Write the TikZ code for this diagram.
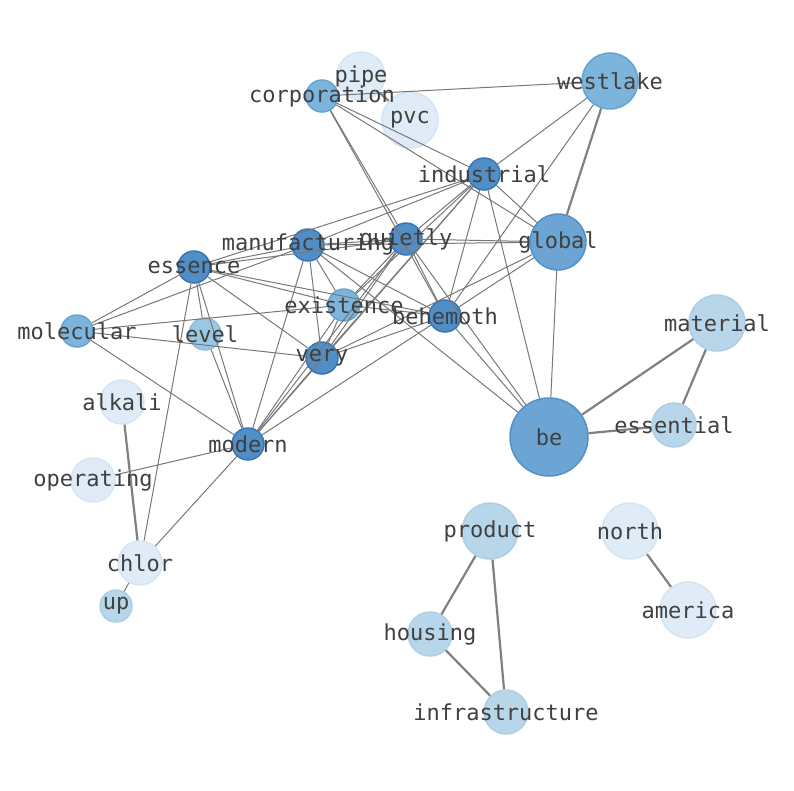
\documentclass[tikz,border=0pt]{standalone}
\usepackage{fontspec}
\setmonofont{DejaVu Sans Mono}
\begin{document}
\begin{tikzpicture}[x=1pt,y=-1pt,
 nd/.style={circle,inner sep=0pt,minimum size=#1,line width=1.5pt},
 dk/.style={fill={rgb,255:red,82;green,142;blue,198},draw={rgb,255:red,55;green,118;blue,186}},
 bg/.style={fill={rgb,255:red,108;green,165;blue,211},draw={rgb,255:red,80;green,145;blue,200}},
 md/.style={fill={rgb,255:red,124;green,180;blue,219},draw={rgb,255:red,100;green,165;blue,212}},
 lv/.style={fill={rgb,255:red,154;green,199;blue,227},draw={rgb,255:red,140;green,190;blue,224}},
 lt/.style={fill={rgb,255:red,184;green,214;blue,233},draw={rgb,255:red,172;green,207;blue,230}},
 vl/.style={fill={rgb,255:red,223;green,235;blue,246},draw={rgb,255:red,214;green,229;blue,243}},
 e/.style={draw={rgb,255:red,120;green,120;blue,120},line width=1pt},
 E/.style={draw={rgb,255:red,128;green,128;blue,128},line width=2.2pt},
 lb/.style={font=\ttfamily\fontsize{22}{22}\selectfont,text={rgb,255:red,64;green,64;blue,64}}]
\useasboundingbox (0,0) rectangle (794,790);
\node[nd=48,vl] (pipe) at (361,76) {};
\node[nd=32,md] (corporation) at (322,96) {};
\node[nd=56,vl] (pvc) at (410,120) {};
\node[nd=56,md] (westlake) at (610,81) {};
\node[nd=32,dk] (industrial) at (484,174) {};
\node[nd=32,dk] (quietly) at (406,239) {};
\node[nd=56,bg] (global) at (558,242) {};
\node[nd=32,dk] (manufacturing) at (308,245) {};
\node[nd=32,dk] (essence) at (194,267) {};
\node[nd=32,md] (existence) at (344,305) {};
\node[nd=32,dk] (behemoth) at (445,316) {};
\node[nd=32,md] (molecular) at (77,331) {};
\node[nd=32,lv] (level) at (205,334) {};
\node[nd=32,dk] (very) at (322,358) {};
\node[nd=56,lt] (material) at (717,323) {};
\node[nd=44,vl] (alkali) at (122,402) {};
\node[nd=32,dk] (modern) at (248,444) {};
\node[nd=78,bg] (be) at (549,437) {};
\node[nd=44,lt] (essential) at (674,425) {};
\node[nd=44,vl] (operating) at (93,480) {};
\node[nd=56,lt] (product) at (490,531) {};
\node[nd=56,vl] (north) at (630,531) {};
\node[nd=44,vl] (chlor) at (140,563) {};
\node[nd=56,vl] (america) at (688,610) {};
\node[nd=32,lt] (up) at (116,606) {};
\node[nd=44,lt] (housing) at (430,634) {};
\node[nd=44,lt] (infrastructure) at (506,712) {};
\foreach \a/\b in {corporation/westlake,corporation/industrial,corporation/global,corporation/quietly,corporation/behemoth,
 westlake/industrial,westlake/behemoth,
 industrial/manufacturing,industrial/essence,industrial/quietly,industrial/global,industrial/behemoth,industrial/be,industrial/very,industrial/existence,industrial/modern,
 quietly/global,manufacturing/global,quietly/manufacturing,quietly/very,quietly/modern,quietly/existence,quietly/behemoth,quietly/be,quietly/essence,
 global/be,global/behemoth,global/very,
 essence/molecular,essence/level,essence/modern,essence/very,essence/existence,essence/behemoth,essence/chlor,manufacturing/essence,
 manufacturing/molecular,manufacturing/very,manufacturing/existence,manufacturing/behemoth,manufacturing/modern,manufacturing/be,
 molecular/existence,molecular/very,molecular/modern,level/modern,
 very/modern,very/behemoth,very/existence,existence/modern,behemoth/modern,behemoth/be,existence/behemoth,
 modern/chlor,modern/operating,chlor/up}
 \draw[e] (\a) -- (\b);
\foreach \a/\b in {pipe/pvc,westlake/global,be/material,be/essential,material/essential,alkali/chlor,product/housing,product/infrastructure,housing/infrastructure,north/america}
 \draw[E] (\a) -- (\b);
\foreach \n in {pipe,corporation,pvc,westlake,industrial,quietly,global,manufacturing,essence,existence,behemoth,molecular,level,very,material,alkali,modern,be,essential,operating,product,north,chlor,america,up,housing,infrastructure}
 \node[lb] at (\n) {\n};
\end{tikzpicture}
\end{document}
